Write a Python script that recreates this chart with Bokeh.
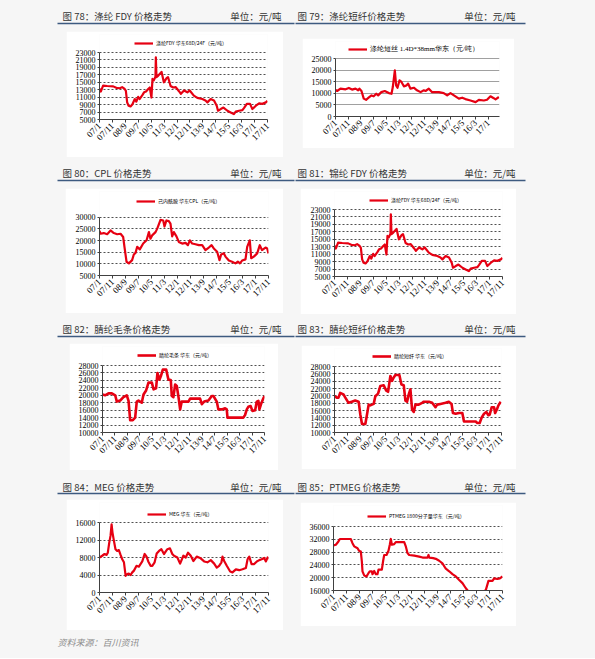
import math
from bokeh.plotting import figure
from bokeh.layouts import column, row
from bokeh.models import Spacer, Legend, LegendItem, FixedTicker, Range1d
from bokeh.embed import file_html
from bokeh.resources import INLINE
from bokeh.core.properties import value

# ---------------- data (month index from 2007/1) ----------------
xtick_months = [0, 10, 20, 30, 40, 50, 60, 70, 80, 90, 100, 110, 120, 130]
xtick_labels = ["07/1", "07/11", "08/9", "09/7", "10/5", "11/3", "12/1",
                "12/11", "13/9", "14/7", "15/5", "16/3", "17/1", "17/11"]

fdy_m = [0, 1, 2.8, 6, 10.6, 13, 15.7, 17.5, 19.5, 20.4, 21.4, 22.5, 24, 25.5, 27.3, 28.5,
         29.9, 31, 33.3, 34.5, 36, 37.7, 38.9, 40.2, 41, 42, 43.3, 43.6, 44.1, 45.5, 48,
         49.8, 51.9, 53, 55, 57, 59, 61.5, 63, 65.4, 68, 69.8, 73, 75.7, 79.6, 82, 83.5,
         86, 88.6, 90.7, 91.7, 93.8, 95.9, 99, 101.5, 104, 105.4, 108, 110.6, 111.9, 114,
         116.5, 118.3, 121, 123.5, 126, 128.7, 130]
fdy_v = [13300, 12500, 14100, 14000, 13900, 13500, 13400, 13700, 13200, 12700, 9600, 8700,
         8500, 9100, 10500, 9800, 11100, 10500, 11600, 12300, 12500, 13200, 13600, 10900,
         15900, 15500, 16500, 21700, 16400, 16800, 17800, 15000, 16100, 16400, 14000, 13600,
         13700, 12600, 11900, 12800, 12300, 12800, 11400, 10800, 10500, 10100, 9600, 10500,
         10100, 8700, 7350, 7800, 8200, 7350, 6900, 6450, 7100, 7350, 7500, 8100, 9200,
         9200, 7800, 8700, 9350, 9200, 9600, 10000]
fdy_yticks = [5000, 7000, 9000, 11000, 13000, 15000, 17000, 19000, 21000, 23000]

psf_m = [0, 1.3, 3.9, 7.9, 10.5, 13, 15.7, 17.8, 18.8, 20.4, 22.2, 24, 26, 28.3, 30, 32,
         33.5, 36, 38.7, 41.9, 44, 45, 46.6, 47.6, 48.7, 50.3, 51.8, 53.7, 55.8, 57, 58.9,
         61.5, 64, 66.8, 69.4, 70.7, 73.3, 75.9, 81.2, 85, 87.7, 90.3, 93, 96.9, 99.5, 102,
         106, 110, 112.6, 116.5, 119, 121.7, 124.3, 125.7, 128.3]
psf_v = [11500, 11000, 12000, 11700, 12300, 11600, 12000, 11300, 12000, 11000, 7700, 7200,
         8100, 9100, 8700, 9800, 9100, 10500, 11000, 10100, 9800, 12700, 19900, 13400, 12400,
         15600, 14900, 13000, 13400, 14200, 12000, 12400, 11300, 10500, 11300, 11000, 12000,
         10500, 10500, 10100, 9100, 10100, 9100, 7700, 8100, 7500, 6900, 6200, 7200, 6900,
         7200, 8700, 7900, 7400, 8400]
psf_yticks = [0, 5000, 10000, 15000, 20000, 25000]

cpl_m = [0, 0.8, 3.3, 5.9, 8.5, 11, 13.6, 16.2, 18.2, 19.2, 20.8, 22.6, 25.1, 26.4, 27.7, 29,
         31, 33.6, 36.2, 38, 39.2, 40.5, 43.1, 44.4, 47, 49, 50, 51.5, 53.3, 54.6, 55.9, 57.2,
         59.2, 61, 63.6, 66.2, 68, 69.5, 71.3, 73.8, 76.4, 79, 81.5, 84.1, 86.2, 87.9, 90.5,
         92.3, 93.6, 95.6, 96.9, 99.5, 102, 104.6, 106.4, 108, 109.7, 112.3, 113.6, 115.6,
         116.7, 118.7, 121.3, 123.3, 125, 127.7, 129, 130]
cpl_v = [24100, 22900, 23200, 22700, 24300, 23200, 22700, 22900, 21500, 17300, 10900, 10200,
         11600, 14000, 14700, 17300, 16200, 18700, 20100, 23600, 20800, 22200, 23600, 25100,
         28900, 28600, 26000, 28600, 28300, 27200, 21800, 23600, 21800, 19400, 18700, 19000,
         18000, 20100, 18700, 18400, 18000, 18000, 15900, 17000, 18000, 16600, 15200, 11600,
         14000, 14500, 13100, 11400, 10900, 10200, 10900, 10200, 11400, 11900, 17300, 20100,
         12400, 13100, 14500, 18000, 15900, 17000, 16600, 14500]
cpl_yticks = [5000, 10000, 15000, 20000, 25000, 30000]

top_m = [0, 2.1, 4.8, 7.5, 10.2, 11.5, 14.2, 16.8, 19.5, 20.9, 22.2, 24.3, 26.2, 27.5, 28.9,
         31.5, 32.9, 35, 36.9, 39.6, 41, 43, 44.1, 45.7, 46.8, 48.4, 51.1, 52.9, 54.8, 55.6,
         56.9, 58.3, 59.6, 61, 62.3, 63.6, 66.3, 69, 70.3, 75.7, 78.3, 79.7, 81.6, 85, 87.7,
         89, 91.7, 93, 95.7, 98.4, 99.7, 100.3, 105, 113, 114.4, 115.8, 117, 118.9, 120.3,
         122.5, 123.8, 125.1, 125.9, 127.3, 129.1, 130]
top_v = [20200, 20000, 20500, 20500, 20000, 18300, 18600, 19500, 20000, 18500, 13300, 13300,
         14000, 18300, 18600, 18000, 20200, 21300, 23400, 23400, 21600, 21900, 26000, 24200,
         25100, 26900, 26900, 24200, 24100, 19800, 19500, 22900, 22500, 19500, 16200, 18300,
         18300, 18300, 19100, 19100, 19100, 17600, 18300, 18600, 19800, 19800, 18300, 16200,
         16200, 16500, 16200, 14000, 14000, 14000, 14700, 16200, 16900, 17100, 15800, 16000,
         18300, 18500, 16200, 17700, 19200, 19800]
top_yticks = [10000, 12000, 14000, 16000, 18000, 20000, 22000, 24000, 26000, 28000]

stp_m = [0, 1.8, 3.1, 4.4, 7, 8.3, 10.9, 13.5, 16.1, 18.8, 20.1, 21.4, 24, 25.3, 26.6, 27.9,
         30.5, 31.8, 33.9, 35.7, 38.3, 40.1, 41.7, 43.5, 44.8, 46.1, 47.4, 50.5, 52.1, 53.9,
         55.2, 56.5, 57.8, 59.1, 60.4, 61.7, 63, 65.6, 68.2, 69.5, 73.4, 76, 78.6, 79.9, 82.5,
         86.5, 89, 91.1, 92.2, 94.3, 96.9, 99.5, 100.8, 104.7, 109.9, 111.2, 113, 114.6,
         116.4, 118.2, 119.8, 120.8, 122.4, 124.2, 125, 126.3, 127.6, 129.4]
stp_v = [19900, 19500, 19500, 20800, 20400, 19600, 18100, 18400, 18700, 18400, 14900, 12300,
         12300, 14900, 17600, 17400, 17800, 19900, 20600, 22700, 22900, 21500, 21100, 25400,
         24100, 25000, 25700, 25700, 23100, 22900, 18700, 18400, 20400, 21800, 16200, 15600,
         17600, 17600, 18100, 18400, 18400, 18100, 16900, 17600, 17800, 18100, 18400, 17800,
         15300, 15100, 15300, 15300, 13000, 13000, 13000, 12600, 12600, 14100, 15100, 15600,
         14700, 14900, 16900, 16900, 15300, 16200, 17400, 18400]
stp_yticks = [10000, 12000, 14000, 16000, 18000, 20000, 22000, 24000, 26000, 28000]

meg_m = [0, 2.1, 3.9, 5.4, 6.4, 7.5, 8.5, 9.3, 10, 11.1, 12.3, 13.6, 14.9, 16.2, 17.5, 18.8,
         20.1, 21.3, 22.6, 23.9, 25.2, 26.5, 28.5, 30.3, 32.9, 34.7, 36.2, 37.5, 39.3, 40.6,
         42.4, 44, 45.8, 47.6, 49.6, 52.2, 54.2, 56, 57.3, 59.9, 62, 64.5, 66.3, 68.1, 70.2,
         72.2, 74.8, 77.4, 80.5, 83, 85.6, 88.2, 90.2, 92, 93.8, 94.6, 95.9, 97.9, 100.5,
         102.3, 104.9, 107.5, 110, 112.6, 113.9, 115.2, 117, 119, 121, 122.9, 124.7, 126.7,
         128, 129.3, 130]
meg_v = [8000, 8400, 8800, 8600, 9100, 11400, 13000, 15600, 13700, 11800, 9900, 9500, 9700,
         8600, 7600, 6900, 3800, 4200, 4300, 4000, 4600, 5000, 6100, 5900, 7100, 8800, 8200,
         7100, 6100, 6100, 6900, 8900, 9500, 9900, 8800, 9900, 10100, 8800, 8400, 8000, 6600,
         8400, 8000, 9100, 8400, 7200, 8200, 7900, 7100, 6900, 7400, 6600, 5700, 6100, 6900,
         8200, 7200, 6100, 4800, 4600, 5300, 5100, 5300, 5600, 7600, 8200, 6500, 6500, 7100,
         7400, 7600, 7900, 7100, 8000, 7600]
meg_yticks = [0, 4000, 8000, 12000, 16000]

ptm_m = [0, 1.8, 3.8, 4.9, 6.9, 13.3, 14.6, 15.9, 18.5, 19.7, 21, 21.8, 22.3, 23.6, 25.4,
         26.9, 27.9, 29.5, 30, 31.3, 32.6, 33.8, 34.6, 37.2, 38.2, 39, 40.8, 42.3, 43.3,
         44.1, 44.9, 46.7, 47.9, 54.4, 55.6, 56.9, 58.2, 62.1, 65.9, 68.5, 72.3, 73.1, 73.6,
         76.7, 78.7, 81.3, 83.8, 86.4, 89, 91.5, 94.1, 96.7, 99.2, 101.8, 103.8, 106, 110,
         114, 115.9, 117.2, 119.2, 122.3, 123.6, 126, 128, 130]
ptm_v = [30100, 30300, 31300, 32100, 32100, 32100, 30800, 29800, 29200, 28400, 28200, 25100,
         22000, 20700, 20400, 21400, 22000, 22000, 21100, 22100, 21100, 21100, 22500, 22500,
         25300, 27100, 27100, 28400, 30300, 32100, 30300, 30500, 31100, 31100, 29800, 27700,
         27100, 26900, 26600, 26300, 26300, 27100, 26300, 26100, 25900, 25300, 24500, 22800,
         22000, 21100, 20400, 19300, 18300, 16700, 15700, 14800, 14200, 14800, 15700, 16200,
         19000, 19000, 19800, 19600, 19800, 20400]
ptm_yticks = [16000, 20000, 24000, 28000, 32000, 36000]

# ---------------- style ----------------
PAGE_BG = "#f6f6f6"
RED = "#e60012"
CJK = "Noto Sans CJK SC"
SERIF = "Liberation Serif"
W = 595
TOP_PAD = 3


def chart(w, h, ml, mr, mt, mb, xs, ys, x_end, yticks, label, leg_fs, n_lab, leg_xy,
          grid_dash="2 2", grid_color="#505050", lw=2.2, leg_font=CJK):
    y0, y1 = yticks[0], yticks[-1]
    # the frame reaches up to the legend; the value axis keeps its own bounds
    y_top = y0 + (y1 - y0) * (h - TOP_PAD - mb) / (h - mt - mb)
    p = figure(width=w, height=h, x_range=Range1d(0, x_end),
               y_range=Range1d(y0, y_top), title=None,
               toolbar_location=None, output_backend="svg",
               min_border_left=ml, min_border_right=mr,
               min_border_top=TOP_PAD, min_border_bottom=mb)
    p.background_fill_color = "white"
    p.border_fill_color = "white"
    p.outline_line_color = None
    r = p.line(xs, ys, line_color=RED, line_width=lw, line_join="round")
    p.xgrid.visible = False
    p.ygrid.ticker = FixedTicker(ticks=yticks)
    p.ygrid.grid_line_color = grid_color
    p.ygrid.grid_line_dash = grid_dash
    p.ygrid.grid_line_width = 1
    p.yaxis.ticker = FixedTicker(ticks=yticks)
    p.yaxis.bounds = (y0, y1)
    p.xaxis.ticker = FixedTicker(ticks=xtick_months[:n_lab])
    p.xaxis.major_label_overrides = {m: l for m, l in zip(xtick_months, xtick_labels)}
    p.xaxis.major_label_orientation = math.pi / 4
    for ax in (p.xaxis, p.yaxis):
        ax.axis_line_color = "#404040"
        ax.axis_line_width = 1
        ax.major_tick_line_color = "#404040"
        ax.minor_tick_line_color = None
        ax.major_tick_in = 0
        ax.major_label_text_font = SERIF
        ax.major_label_text_font_size = "8px"
        ax.major_label_text_color = "black"
        ax.major_label_standoff = 2
    p.xaxis.major_label_text_font_size = "9px"
    p.xaxis.major_tick_out = 3
    p.yaxis.major_tick_out = 2
    leg = Legend(items=[LegendItem(label=label, renderers=[r])],
                 location=leg_xy, orientation="horizontal",
                 border_line_color=None, background_fill_alpha=0,
                 padding=0, margin=0, spacing=0,
                 glyph_width=19, glyph_height=6, label_height=6,
                 label_standoff=3,
                 label_text_font=leg_font, label_text_font_size=f"{leg_fs}px",
                 label_text_color="black")
    p.add_layout(leg)
    return p


def header(h, ty, uy, left_title, right_title):
    p = figure(width=W, height=h, x_range=Range1d(0, W), y_range=Range1d(h, 0),
               toolbar_location=None, output_backend="svg", min_border=0, title=None,
               x_axis_type=None, y_axis_type=None)
    p.background_fill_color = PAGE_BG
    p.border_fill_color = PAGE_BG
    p.outline_line_color = None
    p.grid.visible = False
    p.text(x=[62, 297], y=[ty, ty], text=[left_title, right_title],
           text_font=value(CJK), text_font_size="9.5px", text_color="#333333",
           text_baseline="middle", text_align="left")
    p.text(x=[281, 515], y=[ty, ty], text=["单位：元/吨", "单位：元/吨"],
           text_font=value(CJK), text_font_size="9.5px", text_color="#333333",
           text_baseline="middle", text_align="right")
    p.segment(x0=[57, 295], y0=[uy, uy], x1=[294, 525], y1=[uy, uy],
              line_color="#3d5a80", line_width=1.5)
    return p


def footer(h):
    p = figure(width=W, height=h, x_range=Range1d(0, W), y_range=Range1d(h, 0),
               toolbar_location=None, output_backend="svg", min_border=0, title=None,
               x_axis_type=None, y_axis_type=None)
    p.background_fill_color = PAGE_BG
    p.border_fill_color = PAGE_BG
    p.outline_line_color = None
    p.grid.visible = False
    p.text(x=[57], y=[12], text=["资料来源：百川资讯"], text_font=value(CJK),
           text_font_size="9px", text_color="#8c8c8c", text_font_style="italic",
           text_baseline="middle")
    return p


def pair(sl, left, gap, right, dyl=0, dyr=0):
    lc = column(Spacer(height=dyl, width=left.width), left) if dyl else left
    rc = column(Spacer(height=dyr, width=right.width), right) if dyr else right
    return row(Spacer(width=sl), lc, Spacer(width=gap), rc)


FDY_LABEL = "涤纶FDY 华东68D/24F（元/吨）"

c78 = chart(217, 126, 33, 16, 21, 38, fdy_m, fdy_v, 130, fdy_yticks, FDY_LABEL, 5, 14, (35, 73))
c79 = chart(212, 110, 33, 15, 20, 32, psf_m, psf_v, 128.8, psf_yticks,
            "涤纶短丝 1.4D*38mm华东（元/吨）", 7, 13, (13, 62), grid_dash="solid",
            grid_color="#a0a0a0", leg_font=SERIF)
c80 = chart(218, 125, 34, 15, 29, 37, cpl_m, cpl_v, 130, cpl_yticks,
            "己内酰胺 华东CPL（元/吨）", 5, 14, (37, 71))
c81 = chart(216, 126, 34, 14, 21, 38, fdy_m, fdy_v, 130, fdy_yticks, FDY_LABEL, 5, 14, (35, 73))
c82 = chart(209, 127, 33, 14, 22, 38, top_m, top_v, 130, top_yticks,
            "腈纶毛条 华东（元/吨）", 5, 14, (35, 74), lw=2.6)
c83 = chart(215, 124, 33, 15, 21, 37, stp_m, stp_v, 130, stp_yticks,
            "腈纶短纤 华东（元/吨）", 5, 14, (38, 73), lw=2.6)
c84 = chart(217, 131, 33, 15, 23, 38, meg_m, meg_v, 130, meg_yticks,
            "MEG 华东（元/吨）", 5, 14, (48, 75))
c85 = chart(216, 124, 33, 14, 24, 36, ptm_m, ptm_v, 130, ptm_yticks,
            "PTMEG 1800分子量华东（元/吨）", 5, 14, (34, 71))

page = column(
    header(31, 15, 23, "图 78：涤纶 FDY 价格走势", "图 79：涤纶短纤价格走势"),
    pair(66, c78, 19, c79, 0, 7),
    header(31, 15, 23, "图 80：CPL 价格走势", "图 81：锦纶 FDY 价格走势"),
    pair(65, c80, 17, c81),
    header(29, 14, 22, "图 82：腈纶毛条价格走势", "图 83：腈纶短纤价格走势"),
    pair(69, c82, 23, c83, 0, 2),
    header(29, 16, 23, "图 84：MEG 价格走势", "图 85：PTMEG 价格走势"),
    pair(66, c84, 17, c85, 0, 3),
    footer(28),
    styles={"background-color": PAGE_BG},
)

open("out.html", "w").write(file_html(page, INLINE))
